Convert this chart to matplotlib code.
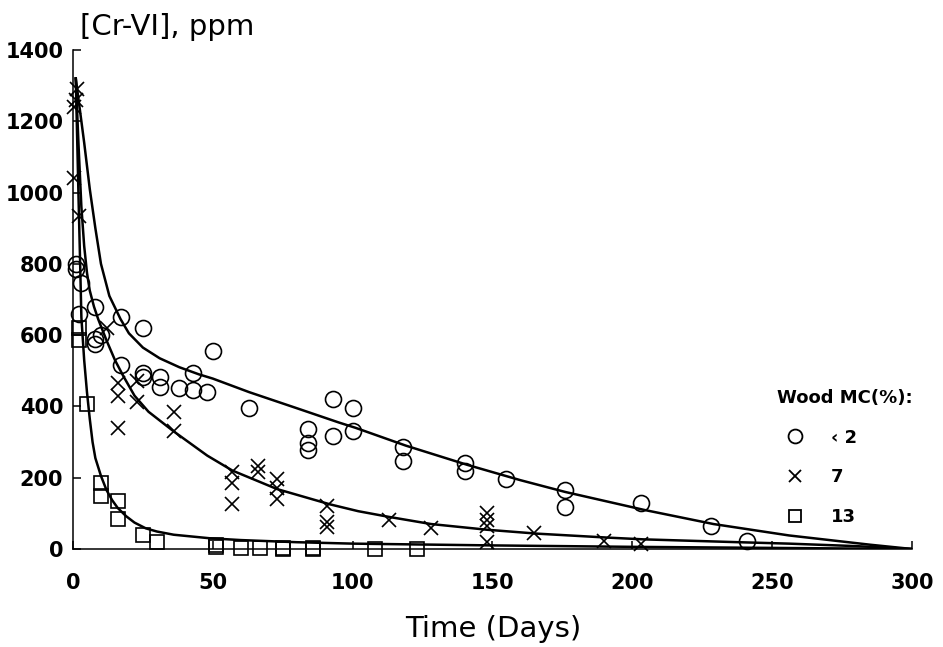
import numpy as np
import matplotlib.pyplot as plt
from matplotlib.lines import Line2D

day_lt2 = [1, 1, 3, 2, 8, 8, 8, 10, 17, 25, 50, 17, 25, 25, 31, 31, 38, 43, 43, 48,
           63, 84, 84, 84, 93, 100, 93, 100, 118, 118, 140, 140, 155, 176, 176, 203, 228, 241]
cr_lt2 = [800, 785, 745, 660, 678, 590, 575, 600, 650, 620, 555, 515, 495, 482, 483, 455, 452, 493, 447, 440,
          395, 337, 298, 279, 420, 395, 316, 331, 286, 247, 242, 220, 196, 165, 118, 130, 64, 22]

day_7 = [0.5, 0.5, 1, 1.5, 2, 12, 16, 16, 16, 23, 23, 36, 36, 57, 57, 57, 66, 66, 73, 73, 73,
         91, 91, 91, 113, 128, 148, 148, 148, 148, 165, 190, 203]
cr_7 = [1040, 1240, 1260, 1290, 935, 620, 465, 430, 338, 470, 412, 385, 330, 215, 185, 125, 232, 215, 195, 170, 140,
        120, 75, 62, 80, 60, 100, 80, 65, 20, 45, 22, 15]

day_13 = [2, 2, 5, 10, 10, 16, 16, 25, 30, 51, 51, 60, 67, 75, 75, 86, 86, 108, 123]
cr_13 = [620, 585, 407, 185, 148, 135, 85, 40, 20, 10, 5, 4, 3, 4, 1, 3, 0, 0, 0]

# fitted curves
fit_day_lt2 = [1, 2, 3, 4, 6, 8, 10, 13, 17, 20, 25, 31, 38, 45, 50, 63, 80, 95, 101,
               119, 141, 160, 176, 204, 229, 256, 285, 300]
fit_cr_lt2 = [1320, 1260, 1200, 1140, 1010, 900, 800, 710, 645, 605, 565, 535, 510, 490, 478, 440, 395, 355, 340,
              290, 236, 193, 160, 110, 70, 38, 12, 0]

fit_day_7 = [1, 2, 3, 4, 5, 6, 7.5, 9, 12, 15, 18, 22, 27, 36, 48, 57, 73, 92, 102, 113,
             128, 148, 166, 191, 204, 238, 256, 280, 300]
fit_cr_7 = [1320, 1130, 960, 850, 775, 725, 680, 645, 585, 530, 485, 430, 385, 330, 262, 220, 168, 125, 106, 90,
            70, 54, 43, 32, 27, 19, 15, 8, 0]

fit_day_13 = [1, 1.5, 2, 2.5, 3, 4, 5, 6, 7, 8, 10, 12, 14, 16, 19, 22, 26, 30, 36, 49,
              60, 80, 100, 150, 200, 250, 300]
fit_cr_13 = [1320, 1150, 980, 820, 650, 530, 440, 365, 300, 255, 205, 165, 137, 115, 92, 74, 58, 49, 40, 30,
             25, 19, 15, 10, 6, 3, 0]

legend_labels = ['\u2039 2', '7', '13']

plt.rcParams["font.family"] = "DejaVu Sans"
fig = plt.figure(figsize=(9.43, 6.47), dpi=100)
ax = fig.add_axes([0.0774, 0.1515, 0.8897, 0.7713])

for xs, ys in [(fit_day_lt2, fit_cr_lt2), (fit_day_7, fit_cr_7), (fit_day_13, fit_cr_13)]:
    ax.plot(xs, ys, color='black', lw=1.8, zorder=2)

ax.plot(day_lt2, cr_lt2, ls='none', marker='o', mfc='none', mec='black', ms=11.5, mew=1.2, clip_on=False, zorder=3)
ax.plot(day_7, cr_7, ls='none', marker='x', color='black', ms=10, mew=1.2, clip_on=False, zorder=3)
ax.plot(day_13, cr_13, ls='none', marker='s', mfc='none', mec='black', ms=9.5, mew=1.2, clip_on=False, zorder=3)

ax.set_xlim(0, 300)
ax.set_ylim(0, 1400)
ax.set_xticks(np.arange(0, 301, 50))
ax.set_yticks(np.arange(0, 1401, 200))
ax.spines['top'].set_visible(False)
ax.spines['right'].set_visible(False)
ax.spines['left'].set_linewidth(1.1)
ax.spines['bottom'].set_linewidth(1.1)
ax.tick_params(direction='in', length=6, width=1.1, labelsize=15)
ax.tick_params(axis='x', pad=17)
ax.tick_params(axis='y', pad=7)
for lbl in ax.get_xticklabels() + ax.get_yticklabels():
    lbl.set_fontweight('bold')

fig.text(80/943, 1 - 35/647, '[Cr-VI], ppm', fontsize=21, ha='left', va='baseline')
fig.text(493/943, 1 - 637/647, 'Time (Days)', fontsize=21, ha='center', va='baseline')

handles = [Line2D([], [], ls='none', marker='o', mfc='none', mec='black', ms=10, mew=1.3),
           Line2D([], [], ls='none', marker='x', color='black', ms=9, mew=1.3),
           Line2D([], [], ls='none', marker='s', mfc='none', mec='black', ms=9, mew=1.3)]
leg = ax.legend(handles, legend_labels, title='Wood MC(%):', loc='upper left',
                bbox_to_anchor=(777/943, 1 - 389/647), bbox_transform=fig.transFigure,
                frameon=False, prop={'weight': 'bold', 'size': 13},
                title_fontproperties={'weight': 'bold', 'size': 13}, alignment='left',
                borderpad=0, borderaxespad=0, handlelength=2.0, handletextpad=1.0, labelspacing=1.2)

fig.savefig('out.png', dpi=100)
